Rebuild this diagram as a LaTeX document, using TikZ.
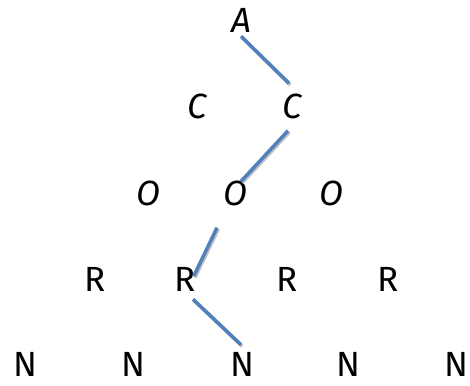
\documentclass[tikz,border=0pt]{standalone}
\usepackage{fontspec}
\setmainfont{Fira Sans}
\definecolor{linkblue}{HTML}{4F81BD}
\definecolor{shadowgray}{HTML}{C0C0C0}

\begin{document}
\begin{tikzpicture}[x=1pt,y=-1pt,
  letter/.style={inner sep=0pt, font=\fontsize{35}{40}\selectfont},
  slanted/.style={letter, font=\fontsize{35}{40}\selectfont\itshape},
  link/.style={linkblue, line width=3.5pt,
    preaction={draw=shadowgray, line width=3.5pt, transform canvas={shift={(1.2pt,-1.5pt)}}}}]
\useasboundingbox (0,0) rectangle (470,385);
%top:
\node[slanted] (a) at (241,20) {A};
%second row:
\node[slanted] (c1) at (197,106) {C};
\node[slanted] (c2) at (292,106) {C};
%third row:
\node[slanted] (o1) at (149,193) {O};
\node[slanted] (o2) at (235,193) {O};
\node[slanted] (o3) at (331,193) {O};
%fourth row:
\node[letter] (r1) at (95,279) {R};
\node[letter] (r2) at (185,279) {R};
\node[letter] (r3) at (287,279) {R};
\node[letter] (r4) at (388,279) {R};
%bottom row:
\node[letter] (n1) at (25,364) {N};
\node[letter] (n2) at (133,364) {N};
\node[letter] (n3) at (242,364) {N};
\node[letter] (n4) at (348,364) {N};
\node[letter] (n5) at (456,364) {N};
%path:
\draw[link] ([yshift=-4pt]a.south) -- ([shift={(-3pt,10pt)}]c2.north);
\draw[link] ([shift={(-4pt,-12pt)}]c2.south) -- ([shift={(6pt,-1pt)}]o2.north);
\draw[link] ([shift={(-18pt,-22pt)}]o2.south) -- ([shift={(-2pt,3pt)}]r2.east);
\draw[link] ([shift={(8pt,-8pt)}]r2.south) -- ([shift={(-1pt,7pt)}]n3.north);
\end{tikzpicture}
\end{document}
